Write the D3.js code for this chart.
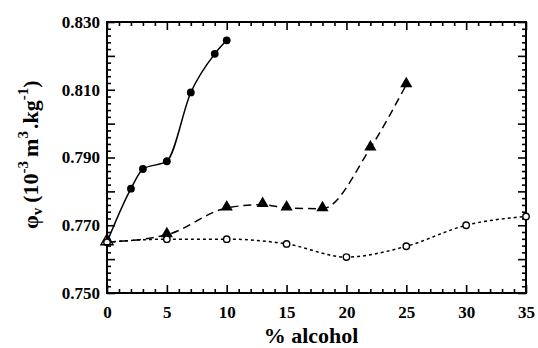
<!DOCTYPE html>
<html>
<head>
<meta charset="utf-8">
<script src="https://cdn.jsdelivr.net/npm/d3@7"></script>
<style>
  body { margin: 0; background: #fff; }
  text { font-family: "Liberation Serif", serif; }
</style>
</head>
<body>
<div id="chart"></div>
<script>
// Daten
const circleX = [0, 2, 3, 5, 7, 9, 10];
const circleY = [0.765, 0.7808, 0.7866, 0.7889, 0.8092, 0.8206, 0.8246];

const triX = [0, 5, 10, 13, 15, 18, 22, 25];
const triY = [0.765, 0.7672, 0.7751, 0.7761, 0.7751, 0.7749, 0.7928, 0.8115];

const openX = [0, 5, 10, 15, 20, 25, 30, 35];
const openY = [0.765, 0.7659, 0.7659, 0.7645, 0.7606, 0.7638, 0.7700, 0.7726];

const xTicks = [0, 5, 10, 15, 20, 25, 30, 35];
const yTicks = ["0.750", "0.770", "0.790", "0.810", "0.830"];

const FONT = "Liberation Serif, serif";

const width = 538, height = 348;
const margin = {top: 22, right: 12, bottom: 55, left: 107};

const svg = d3.select("#chart").append("svg")
    .attr("width", width)
    .attr("height", height)
    .attr("font-family", FONT);

const x = d3.scaleLinear().domain([0, 35]).range([margin.left, width - margin.right]);
const y = d3.scaleLinear().domain([0.75, 0.83]).range([height - margin.bottom, margin.top]);

const x0 = x.range()[0], x1 = x.range()[1];
const y0 = y.range()[0], y1 = y.range()[1];

// Hilfsticks
const xMinor = d3.range(0, 36, 1).filter(v => v % 5 !== 0);
const yMajor = d3.range(0, 9).map(i => 0.75 + i * 0.01);
const yMinor = d3.range(0, 41).map(i => 0.75 + i * 0.002).filter((v, i) => i % 5 !== 0);

function styleAxis(g) {
    g.attr("font-family", FONT).attr("font-size", 17).attr("font-weight", "bold");
    g.select(".domain").remove();
    g.selectAll(".tick line").attr("stroke", "#000").attr("stroke-width", 1.6);
    g.selectAll("text").attr("fill", "#000").attr("font-family", FONT);
}

// untere Achse
svg.append("g").attr("transform", `translate(0,${y0})`)
    .call(d3.axisBottom(x).tickValues(xTicks).tickSize(-8).tickPadding(13).tickFormat(d3.format("d")))
    .call(styleAxis);
svg.append("g").attr("transform", `translate(0,${y0})`)
    .call(d3.axisBottom(x).tickValues(xMinor).tickSize(-4).tickFormat(""))
    .call(styleAxis);
// obere Achse
svg.append("g").attr("transform", `translate(0,${y1})`)
    .call(d3.axisTop(x).tickValues(xTicks).tickSize(-8).tickFormat(""))
    .call(styleAxis);
svg.append("g").attr("transform", `translate(0,${y1})`)
    .call(d3.axisTop(x).tickValues(xMinor).tickSize(-4).tickFormat(""))
    .call(styleAxis);
// linke Achse
svg.append("g").attr("transform", `translate(${x0},0)`)
    .call(d3.axisLeft(y).tickValues(yMajor).tickSize(-8).tickPadding(7)
        .tickFormat(d => {
            const s = d3.format(".3f")(d);
            return yTicks.includes(s) ? s : "";
        }))
    .call(styleAxis);
svg.append("g").attr("transform", `translate(${x0},0)`)
    .call(d3.axisLeft(y).tickValues(yMinor).tickSize(-4).tickFormat(""))
    .call(styleAxis);
// rechte Achse
svg.append("g").attr("transform", `translate(${x1},0)`)
    .call(d3.axisRight(y).tickValues(yMajor).tickSize(-8).tickFormat(""))
    .call(styleAxis);
svg.append("g").attr("transform", `translate(${x1},0)`)
    .call(d3.axisRight(y).tickValues(yMinor).tickSize(-4).tickFormat(""))
    .call(styleAxis);

// Rahmen
svg.append("rect")
    .attr("x", x0).attr("y", y1)
    .attr("width", x1 - x0).attr("height", y0 - y1)
    .attr("fill", "none")
    .attr("stroke", "#000")
    .attr("stroke-width", 2);

// Linien
const line = d3.line()
    .x(d => x(d[0]))
    .y(d => y(d[1]))
    .curve(d3.curveMonotoneX);

const circlePts = circleX.map((v, i) => [v, circleY[i]]);
const triPts = triX.map((v, i) => [v, triY[i]]);
const openPts = openX.map((v, i) => [v, openY[i]]);

svg.append("path").datum(openPts)
    .attr("d", line).attr("fill", "none").attr("stroke", "#000")
    .attr("stroke-width", 1.5).attr("stroke-dasharray", "3,3");
svg.append("path").datum(triPts)
    .attr("d", line).attr("fill", "none").attr("stroke", "#000")
    .attr("stroke-width", 1.5).attr("stroke-dasharray", "8,5");
svg.append("path").datum(circlePts)
    .attr("d", line).attr("fill", "none").attr("stroke", "#000")
    .attr("stroke-width", 1.5);

// Marker
const triSym = d3.symbol().type(d3.symbolTriangle).size(64);

svg.selectAll(".tri")
    .data(triPts.slice(1))
    .join("path")
    .attr("class", "tri")
    .attr("d", triSym)
    .attr("transform", d => `translate(${x(d[0])},${y(d[1]) - 1})`)
    .attr("fill", "#000");

svg.selectAll(".dot")
    .data(circlePts.slice(1))
    .join("circle")
    .attr("class", "dot")
    .attr("cx", d => x(d[0]))
    .attr("cy", d => y(d[1]))
    .attr("r", 3.9)
    .attr("fill", "#000");

svg.selectAll(".open")
    .data(openPts)
    .join("circle")
    .attr("class", "open")
    .attr("cx", d => x(d[0]))
    .attr("cy", d => y(d[1]))
    .attr("r", 3.2)
    .attr("fill", "#fff")
    .attr("stroke", "#000")
    .attr("stroke-width", 1.4);

// offenes Dreieck am Startpunkt
svg.append("path")
    .attr("d", triSym)
    .attr("transform", `translate(${x(triPts[0][0])},${y(triPts[0][1]) - 1})`)
    .attr("fill", "none")
    .attr("stroke", "#000")
    .attr("stroke-width", 1.4);

// Achsentitel
svg.append("text")
    .attr("x", 311)
    .attr("y", 343)
    .attr("text-anchor", "middle")
    .attr("font-family", FONT)
    .attr("font-weight", "bold")
    .attr("font-size", 22)
    .text("% alcohol");

const yl = svg.append("text")
    .attr("transform", `translate(38,229) rotate(-90)`)
    .attr("text-anchor", "start")
    .attr("font-family", FONT)
    .attr("font-weight", "bold")
    .attr("font-size", 22);
yl.append("tspan").text("φ");
yl.append("tspan").attr("dy", 4).attr("font-size", 15).text("v");
yl.append("tspan").attr("dy", -4).attr("dx", 5).text("(10");
yl.append("tspan").attr("dy", -10).attr("font-size", 15).text("-3");
yl.append("tspan").attr("dy", 10).attr("dx", 4).text("m");
yl.append("tspan").attr("dy", -10).attr("font-size", 15).text("3");
yl.append("tspan").attr("dy", 10).attr("dx", 2).text(".kg");
yl.append("tspan").attr("dy", -10).attr("font-size", 15).text("-1");
yl.append("tspan").attr("dy", 10).text(")");
</script>
</body>
</html>
